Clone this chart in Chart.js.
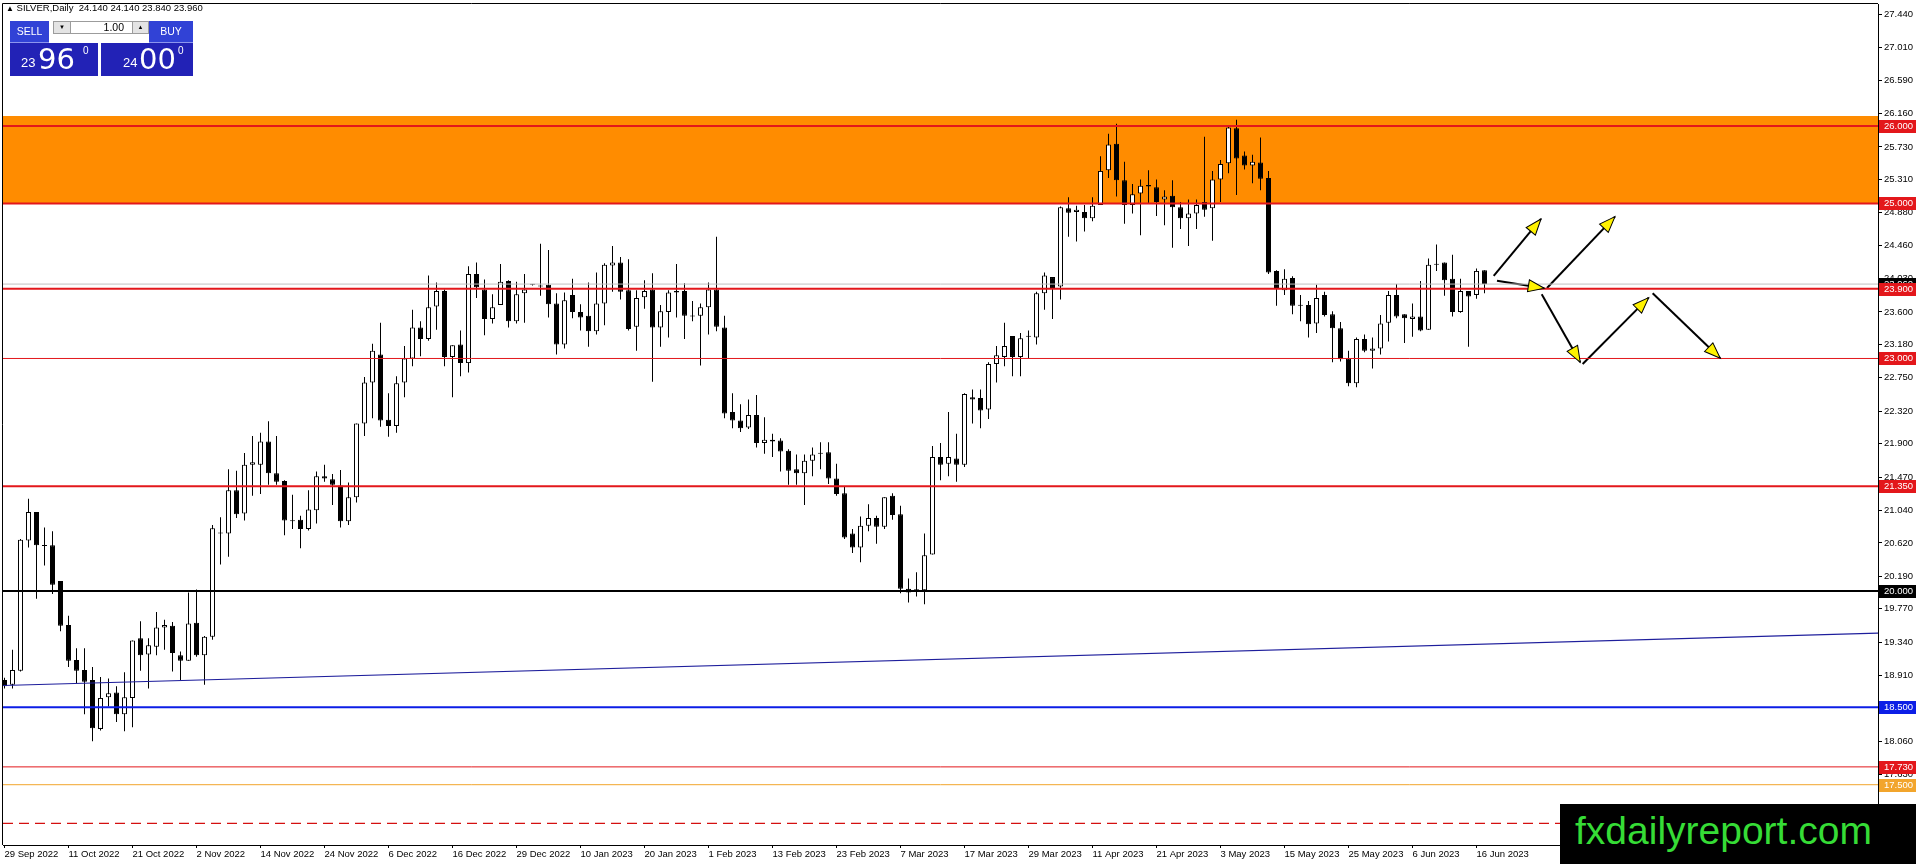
<!DOCTYPE html>
<html>
<head>
<meta charset="utf-8">
<script src="https://cdn.jsdelivr.net/npm/chart.js@4.4.0/dist/chart.umd.min.js"></script>
<style>
  body { margin: 0; background: #fff; }
  #wrap { position: relative; width: 1916px; height: 864px; overflow: hidden; font-family: "Liberation Sans", Arial, sans-serif; }
  #c { position: absolute; left: 0; top: 0; }
  .o { position: absolute; box-sizing: border-box; }
  #hdr { left: 6px; top: 2px; font-size: 9.5px; line-height: 12px; color: #000; white-space: pre; }
  #hdr .tri { font-size: 8px; vertical-align: 0px; }
  .top { background: #3142d6; color: #fff; font-size: 10.5px; text-align: center; line-height: 21px; border-bottom: 1px solid #8c95ee; }
  .arr { background: #e4e4e4; border: 1px solid #9c9c9c; font-size: 6px; text-align: center; line-height: 11px; color: #000; }
  .lot { background: #fff; border: 1px solid #9c9c9c; font-size: 10.5px; text-align: right; padding-right: 8px; line-height: 11px; }
  .px { background: #2222b6; color: #fff; }
  .px span { position: absolute; line-height: 1; white-space: nowrap; }
  .sm { font-size: 13px; }
  .bg { font-family: "DejaVu Sans", sans-serif; font-size: 29px; }
  .sp { font-size: 10px; }
  #logo { left: 1560px; top: 804px; width: 356px; height: 60px; background: #000; color: #36dc36; font-size: 39px; line-height: 54px; padding-left: 15px; white-space: nowrap; }
</style>
</head>
<body>
<div id="wrap">
  <canvas id="c" width="1916" height="864"></canvas>
  <div id="hdr" class="o"><span class="tri">▲</span> SILVER,Daily  24.140 24.140 23.840 23.960</div>
  <div class="o top" style="left:10px;top:21px;width:39px;height:22px;">SELL</div>
  <div class="o arr" style="left:53px;top:21px;width:18px;height:13px;">▼</div>
  <div class="o lot" style="left:70px;top:21px;width:63px;height:13px;">1.00</div>
  <div class="o arr" style="left:132px;top:21px;width:17px;height:13px;">▲</div>
  <div class="o top" style="left:149px;top:21px;width:44px;height:22px;">BUY</div>
  <div class="o px" style="left:10px;top:43px;width:88px;height:33px;">
    <span class="sm" style="left:11px;top:13px;">23</span>
    <span class="bg" style="left:28px;top:2px;">96</span>
    <span class="sp" style="left:73px;top:3px;">0</span>
  </div>
  <div class="o px" style="left:101px;top:43px;width:92px;height:33px;">
    <span class="sm" style="left:22px;top:13px;">24</span>
    <span class="bg" style="left:38px;top:2px;">00</span>
    <span class="sp" style="left:77px;top:3px;">0</span>
  </div>
  <div id="logo" class="o">fxdailyreport.com</div>
</div>
<script>
// SILVER daily candles, 29 Sep 2022 .. 19 Jun 2023
const opens = [
  18.85, 18.79, 18.97, 20.65, 21.02, 20.59, 20.59, 20.13, 19.56, 19.11,
  18.98, 18.85, 18.22, 18.63, 18.69, 18.41, 18.62, 19.39, 19.18, 19.28,
  19.53, 19.55, 19.17, 19.10, 19.59, 19.17, 19.41, 20.74, 20.74, 21.30,
  21.00, 21.63, 21.63, 21.93, 21.52, 21.42, 20.91, 20.92, 20.80, 21.04,
  21.48, 21.44, 21.36, 20.90, 21.21, 22.16, 22.69, 23.05, 22.21, 22.13,
  22.69, 23.00, 23.40, 23.25, 23.67, 23.87, 23.02, 23.18, 22.94, 24.09,
  23.89, 23.51, 23.69, 24.00, 23.48, 23.84, 23.95, 23.94, 23.95, 23.71,
  23.18, 23.82, 23.60, 23.55, 23.35, 23.71, 24.20, 24.24, 23.88, 23.41,
  23.79, 23.89, 23.40, 23.60, 23.87, 23.87, 23.54, 23.55, 23.66, 23.89,
  23.40, 22.31, 22.20, 22.11, 22.27, 21.91, 21.95, 21.94, 21.81, 21.57,
  21.52, 21.68, 21.77, 21.79, 21.45, 21.26, 20.74, 20.56, 20.84, 20.94,
  20.83, 21.23, 20.99, 20.03, 20.01, 20.01, 20.47, 21.73, 21.64, 21.71,
  21.63, 22.50, 22.49, 22.34, 22.93, 23.02, 23.29, 23.02, 23.28, 23.27,
  23.84, 24.05, 23.93, 24.94, 24.89, 24.89, 24.81, 24.98, 25.43, 25.77,
  25.30, 24.98, 25.13, 25.24, 25.21, 25.05, 25.10, 24.95, 24.81, 24.87,
  25.02, 24.94, 25.31, 25.52, 25.97, 25.62, 25.49, 25.53, 25.33, 24.13,
  23.88, 24.04, 23.68, 23.69, 23.45, 23.82, 23.57, 23.39, 23.00, 22.68,
  23.25, 23.10, 23.13, 23.46, 23.82, 23.57, 23.51, 23.54, 23.37, 24.21,
  24.24, 24.03, 23.60, 23.87, 23.82, 24.14
];
const highs = [
  18.88, 19.24, 20.67, 21.19, 21.02, 20.82, 20.77, 20.13, 19.68, 19.26,
  19.26, 19.02, 18.89, 18.87, 18.77, 18.95, 19.36, 19.61, 19.39, 19.73,
  19.63, 19.60, 19.22, 19.98, 20.02, 19.42, 20.85, 20.95, 21.57, 21.55,
  21.78, 22.00, 22.04, 22.19, 22.00, 21.43, 21.24, 20.97, 21.30, 21.54,
  21.63, 21.51, 21.56, 21.40, 22.16, 22.76, 23.19, 23.46, 22.55, 22.77,
  23.16, 23.63, 23.48, 24.07, 23.98, 23.89, 23.17, 23.36, 24.19, 24.24,
  24.02, 23.83, 24.22, 24.01, 23.99, 24.09, 23.96, 24.48, 24.40, 23.84,
  23.85, 24.03, 23.70, 23.98, 24.11, 24.23, 24.45, 24.31, 24.28, 23.88,
  24.01, 24.10, 23.69, 23.88, 24.22, 23.97, 23.74, 23.71, 23.98, 24.57,
  23.55, 22.55, 22.41, 22.47, 22.53, 22.24, 22.03, 21.97, 21.83, 21.76,
  21.76, 21.85, 21.92, 21.92, 21.64, 21.35, 20.80, 20.96, 21.12, 20.97,
  21.21, 21.26, 21.10, 20.16, 20.24, 20.74, 21.87, 21.91, 22.31, 22.03,
  22.55, 22.60, 22.60, 22.95, 23.16, 23.46, 23.29, 23.33, 23.36, 23.86,
  24.11, 24.05, 24.96, 25.08, 24.97, 24.98, 25.08, 25.61, 25.90, 26.03,
  25.54, 25.25, 25.31, 25.43, 25.31, 25.17, 25.30, 25.02, 25.05, 25.05,
  25.86, 25.42, 25.56, 26.01, 26.08, 25.67, 25.63, 25.85, 25.42, 24.14,
  24.15, 24.06, 23.82, 23.74, 23.95, 23.86, 23.61, 23.47, 23.10, 23.27,
  23.31, 23.27, 23.56, 23.87, 23.96, 23.57, 23.71, 24.00, 24.29, 24.47,
  24.24, 24.34, 24.03, 23.87, 24.16, 24.14
];
const lows = [
  18.74, 18.74, 18.96, 20.56, 19.90, 20.33, 19.96, 19.48, 19.02, 18.81,
  18.41, 18.06, 18.20, 18.51, 18.31, 18.19, 18.24, 18.97, 18.74, 19.17,
  19.24, 18.96, 18.85, 19.10, 19.15, 18.79, 19.37, 20.34, 20.44, 20.94,
  20.91, 21.23, 21.25, 21.37, 21.37, 20.72, 20.80, 20.55, 20.78, 20.87,
  21.41, 21.11, 20.82, 20.85, 21.14, 22.00, 22.23, 22.12, 21.99, 22.04,
  22.50, 22.90, 23.03, 23.23, 23.37, 22.90, 22.50, 22.77, 22.82, 23.78,
  23.30, 23.45, 23.69, 23.40, 23.45, 23.46, 23.94, 23.81, 23.53, 23.05,
  23.13, 23.52, 23.36, 23.15, 23.31, 23.43, 23.86, 23.76, 23.36, 23.10,
  23.64, 22.70, 23.15, 23.27, 23.53, 23.25, 23.48, 22.91, 23.31, 23.35,
  22.23, 22.10, 22.05, 22.09, 21.85, 21.77, 21.73, 21.54, 21.37, 21.37,
  21.11, 21.48, 21.57, 21.38, 21.23, 20.67, 20.49, 20.37, 20.77, 20.61,
  20.80, 20.92, 19.97, 19.85, 19.93, 19.83, 20.47, 21.43, 21.48, 21.41,
  21.60, 22.16, 22.10, 22.22, 22.69, 22.90, 22.77, 22.77, 23.00, 23.18,
  23.63, 23.51, 23.76, 24.57, 24.51, 24.64, 24.77, 24.98, 25.33, 25.09,
  24.74, 24.87, 24.59, 25.00, 24.84, 24.72, 24.43, 24.67, 24.45, 24.67,
  24.83, 24.52, 25.02, 25.39, 25.11, 25.44, 25.26, 25.17, 24.09, 23.68,
  23.82, 23.57, 23.48, 23.27, 23.33, 23.54, 22.95, 22.96, 22.64, 22.63,
  23.08, 22.87, 23.05, 23.22, 23.52, 23.20, 23.28, 23.35, 23.37, 24.13,
  23.81, 23.54, 23.59, 23.15, 23.77, 23.84
];
const closes = [
  18.77, 18.98, 20.66, 21.02, 20.59, 20.58, 20.08, 19.55, 19.10, 18.97,
  18.83, 18.23, 18.62, 18.68, 18.41, 18.63, 19.36, 19.17, 19.30, 19.53,
  19.56, 19.20, 19.10, 19.58, 19.17, 19.41, 20.81, 20.75, 21.30, 20.99,
  21.63, 21.66, 21.93, 21.52, 21.41, 20.91, 20.90, 20.80, 21.05, 21.48,
  21.45, 21.37, 20.90, 21.21, 22.16, 22.69, 23.10, 22.20, 22.13, 22.68,
  23.00, 23.40, 23.25, 23.66, 23.87, 23.02, 23.17, 22.94, 24.09, 23.92,
  23.51, 23.66, 23.99, 23.48, 23.83, 23.89, 23.95, 23.93, 23.70, 23.18,
  23.75, 23.60, 23.53, 23.35, 23.71, 24.21, 24.24, 23.86, 23.38, 23.78,
  23.87, 23.40, 23.61, 23.85, 23.85, 23.55, 23.54, 23.66, 23.89, 23.41,
  22.29, 22.20, 22.10, 22.27, 21.91, 21.95, 21.93, 21.80, 21.55, 21.52,
  21.68, 21.76, 21.77, 21.45, 21.25, 20.69, 20.56, 20.84, 20.94, 20.83,
  21.21, 20.98, 20.03, 19.98, 20.01, 20.46, 21.73, 21.63, 21.73, 21.63,
  22.54, 22.47, 22.33, 22.93, 23.04, 23.16, 23.02, 23.26, 23.28, 23.84,
  24.07, 23.91, 24.95, 24.88, 24.92, 24.81, 24.97, 25.42, 25.76, 25.30,
  24.98, 25.12, 25.23, 25.22, 25.02, 25.09, 24.95, 24.81, 24.87, 24.98,
  24.92, 25.31, 25.51, 25.98, 25.58, 25.49, 25.54, 25.32, 24.11, 23.91,
  24.03, 23.68, 23.68, 23.44, 23.78, 23.56, 23.39, 22.99, 22.68, 23.25,
  23.10, 23.13, 23.45, 23.82, 23.54, 23.52, 23.54, 23.36, 24.21, 24.21,
  24.01, 23.60, 23.87, 23.80, 24.13, 23.96
];

// bottom axis: bar index of each date label
const dateIdx = [0, 8, 16, 24, 32, 40, 48, 56, 64, 72, 80, 88, 96, 104, 112, 120, 128, 136, 144, 152, 160, 168, 176, 184];
const dateLabels = ['29 Sep 2022', '11 Oct 2022', '21 Oct 2022', '2 Nov 2022', '14 Nov 2022', '24 Nov 2022',
  '6 Dec 2022', '16 Dec 2022', '29 Dec 2022', '10 Jan 2023', '20 Jan 2023', '1 Feb 2023', '13 Feb 2023',
  '23 Feb 2023', '7 Mar 2023', '17 Mar 2023', '29 Mar 2023', '11 Apr 2023', '21 Apr 2023', '3 May 2023',
  '15 May 2023', '25 May 2023', '6 Jun 2023', '16 Jun 2023'];

// price axis labels
const yTicks = [27.44, 27.01, 26.59, 26.16, 25.73, 25.31, 24.88, 24.46, 24.03, 23.60, 23.18, 22.75,
  22.32, 21.90, 21.47, 21.04, 20.62, 20.19, 19.77, 19.34, 18.91, 18.48, 18.06, 17.63];

// horizontal levels, supply zone, bid, trend line and projection arrows
const levelValues = [26.0, 25.0, 23.9, 23.0, 21.35, 20.0, 18.5, 17.73, 17.5, 17.0];
const zoneTop = 26.13, zoneBottom = 25.0;
const bidPrice = 23.96;
const trendX = [-0.19, 234.19];
const trendY = [18.78, 19.455];
const arrows = [
  [186.15, 24.065, 192.06, 24.80],
  [186.56, 24.004, 192.47, 23.906],
  [192.81, 23.91, 201.31, 24.83],
  [192.15, 23.828, 196.97, 22.951],
  [197.27, 22.929, 205.52, 23.785],
  [206.02, 23.841, 214.47, 23.003]
];

// ---- look ----
const RED = '#e3171b';
const levelLook = [
  { c: RED, w: 2, box: RED },
  { c: RED, w: 2, box: RED },
  { c: RED, w: 2, box: RED },
  { c: RED, w: 1, box: RED },
  { c: RED, w: 2, box: RED },
  { c: '#000000', w: 2, box: '#000000' },
  { c: '#0c1ee6', w: 2, box: '#0c1ee6' },
  { c: RED, w: 1, box: RED },
  { c: '#f2a52c', w: 1, box: '#f2a52c' },
  { c: '#d41010', w: 1.3, box: null, dash: [10, 6] }
];
const X_MIN = -0.1875, X_MAX = 234.1875;
const Y_MAX = 27.574, Y_MIN = 16.722;

Chart.defaults.font.family = '"Liberation Sans", Arial, sans-serif';
Chart.defaults.font.size = 9.5;
Chart.defaults.color = '#000';

const idx = opens.map((_, i) => i);
const span = v => [{ x: X_MIN, y: v }, { x: X_MAX, y: v }];

const datasets = [];
levelValues.forEach((v, i) => {
  const s = levelLook[i];
  datasets.push({ type: 'line', data: span(v), borderColor: s.c, borderWidth: s.w, borderDash: s.dash || [], pointRadius: 0, order: 0 });
});
datasets.push({ type: 'line', data: span(bidPrice), borderColor: '#c0c0c0', borderWidth: 1, pointRadius: 0, order: 0 });
datasets.push({ type: 'line', data: trendX.map((x, i) => ({ x, y: trendY[i] })), borderColor: '#1e1e9c', borderWidth: 1.2, pointRadius: 0, order: 0 });
arrows.forEach(a => {
  datasets.push({ type: 'line', data: [{ x: a[0], y: a[1] }, { x: a[2], y: a[3] }], borderColor: '#000', borderWidth: 2, pointRadius: 0, order: 0 });
});
// candle bodies
datasets.push({
  type: 'bar', order: 1, grouped: false, maxBarThickness: 5, minBarLength: 1, inflateAmount: 0,
  data: idx.map(i => ({ x: i, y: [Math.min(opens[i], closes[i]), Math.max(opens[i], closes[i])] })),
  backgroundColor: idx.map(i => closes[i] > opens[i] + 0.005 ? '#ffffff' : '#000000'),
  borderColor: '#000', borderWidth: 1, borderSkipped: false
});
// wicks
datasets.push({
  type: 'bar', order: 2, grouped: false, maxBarThickness: 1, inflateAmount: 0,
  data: idx.map(i => ({ x: i, y: [lows[i], highs[i]] })),
  backgroundColor: '#000', borderWidth: 0
});
// supply zone
datasets.push({ type: 'line', order: 9, data: span(zoneTop), borderWidth: 0, pointRadius: 0, fill: { value: zoneBottom }, backgroundColor: '#ff8c00' });

const frame = {
  id: 'frame',
  afterDraw(chart) {
    const { ctx, chartArea: a } = chart;
    ctx.save();
    ctx.strokeStyle = '#000';
    ctx.lineWidth = 1;
    ctx.beginPath();
    ctx.moveTo(a.left - 0.5, a.bottom);
    ctx.lineTo(a.left - 0.5, a.top - 0.5);
    ctx.lineTo(a.right, a.top - 0.5);
    ctx.stroke();
    ctx.restore();
  }
};

const heads = {
  id: 'heads',
  afterDatasetsDraw(chart) {
    const { ctx, scales: { x, y } } = chart;
    ctx.save();
    arrows.forEach(a => {
      const x0 = x.getPixelForValue(a[0]), y0 = y.getPixelForValue(a[1]);
      const x1 = x.getPixelForValue(a[2]), y1 = y.getPixelForValue(a[3]);
      ctx.save();
      ctx.translate(x1, y1);
      ctx.rotate(Math.atan2(y1 - y0, x1 - x0));
      ctx.beginPath();
      ctx.moveTo(0, 0); ctx.lineTo(-16, -6); ctx.lineTo(-16, 6); ctx.closePath();
      ctx.fillStyle = '#fff200'; ctx.fill();
      ctx.strokeStyle = '#000'; ctx.lineWidth = 1; ctx.stroke();
      ctx.restore();
    });
    ctx.restore();
  }
};

const tags = {
  id: 'tags',
  afterDraw(chart) {
    const { ctx, chartArea: a, scales: { y } } = chart;
    const x0 = a.right + 1, w = chart.width - x0;
    const tag = (v, bg) => {
      const py = Math.round(y.getPixelForValue(v));
      ctx.fillStyle = bg;
      ctx.fillRect(x0, py - 6, w, 13);
      ctx.fillStyle = '#fff';
      ctx.fillText(v.toFixed(3), a.right + 6, py + 0.5);
    };
    ctx.save();
    ctx.font = '9.5px "Liberation Sans", Arial, sans-serif';
    ctx.textBaseline = 'middle';
    tag(bidPrice, '#000');
    levelValues.forEach((v, i) => { if (levelLook[i].box) tag(v, levelLook[i].box); });
    ctx.restore();
  }
};

new Chart(document.getElementById('c'), {
  type: 'bar',
  data: { datasets },
  options: {
    responsive: false,
    animation: false,
    devicePixelRatio: 1,
    layout: { padding: { left: 3, top: 4, right: 0, bottom: 0 } },
    plugins: { legend: { display: false }, tooltip: { enabled: false } },
    scales: {
      x: {
        type: 'linear', min: X_MIN, max: X_MAX, offset: false,
        grid: { drawOnChartArea: false, tickLength: 3, color: '#000', offset: false },
        border: { display: true, color: '#000' },
        ticks: { align: 'start', maxRotation: 0, autoSkip: false, padding: 1, callback: (v, i) => dateLabels[i] },
        afterBuildTicks: s => { s.ticks = dateIdx.map(v => ({ value: v })); },
        afterFit: s => { s.height = 19; s.paddingLeft = 0; s.paddingRight = 0; }
      },
      y: {
        type: 'linear', position: 'right', min: Y_MIN, max: Y_MAX,
        grid: { drawOnChartArea: false, tickLength: 4, color: '#000' },
        border: { display: true, color: '#000' },
        ticks: { padding: 2, autoSkip: false, callback: v => v.toFixed(3) },
        afterBuildTicks: s => { s.ticks = yTicks.map(v => ({ value: v })); },
        afterFit: s => { s.width = 38; s.paddingTop = 0; s.paddingBottom = 0; }
      }
    }
  },
  plugins: [frame, heads, tags]
});
</script>
</body>
</html>
